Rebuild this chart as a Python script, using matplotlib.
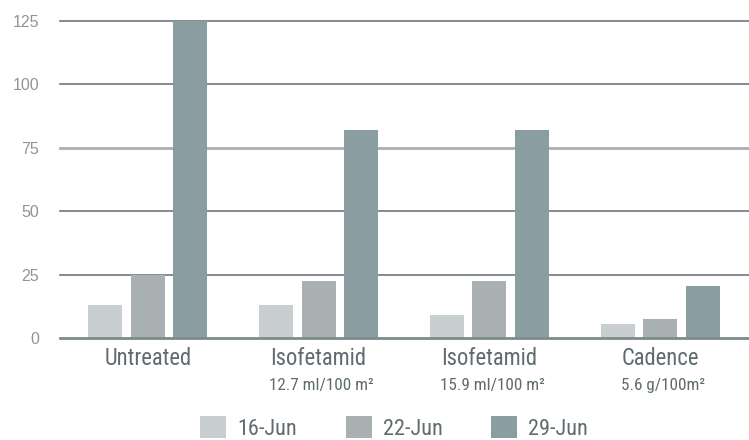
import matplotlib
matplotlib.use("Agg")
import matplotlib.pyplot as plt
import numpy as np
from matplotlib import font_manager as fm
from matplotlib.transforms import blended_transform_factory

categories = ["Untreated", "Isofetamid", "Isofetamid", "Cadence"]
sublabels = ["", "12.7 ml/100 m\u00b2", "15.9 ml/100 m\u00b2", "5.6 g/100m\u00b2"]
series_names = ["16-Jun", "22-Jun", "29-Jun"]
jun16 = [13, 13, 9.2, 5.6]
jun22 = [25, 22.6, 22.6, 7.6]
jun29 = [125, 82, 82, 20.6]
yticks = [0, 25, 50, 75, 100, 125]

colors = ["#c9cfd1", "#a9b0b2", "#8a9da1"]


def pick_narrow():
    for fam, stretch in [("Liberation Sans Narrow", "normal"),
                         ("Roboto Condensed", "normal"),
                         ("DejaVu Sans", "condensed"),
                         ("Open Sans", "condensed")]:
        try:
            path = fm.findfont(fm.FontProperties(family=fam, stretch=stretch),
                               fallback_to_default=False)
        except Exception:
            continue
        low = path.lower()
        if "narrow" in low or "condensed" in low:
            return fam, stretch, 1.0
    return "Roboto", "normal", 0.9


nfam, nstretch, nscale = pick_narrow()
narrow = [nfam, "DejaVu Sans"]

fig = plt.figure(figsize=(7.49, 4.40), dpi=100)
ax = fig.add_axes([60 / 749, 1 - 338 / 440, 1 - 60 / 749, (338 - 21) / 440])

x = np.arange(len(categories))
width = 0.199
step = 0.249
handles = []
for i, (vals, name) in enumerate(zip([jun16, jun22, jun29], series_names)):
    b = ax.bar(x + (i - 1) * step, vals, width, color=colors[i], label=name, zorder=3)
    handles.append(b)

for v in yticks[1:]:
    if v == 75:
        ax.axhline(v, color="#a9b0b2", lw=2.0, zorder=1, clip_on=False)
    else:
        ax.axhline(v, color="#6d797c", lw=1.2, zorder=1, clip_on=False)
ax.axhline(0, color="#7f8a8d", lw=2.0, zorder=4, clip_on=False)

ax.set_xlim(-0.514, 3.52)
ax.set_ylim(0, 125)
for s in ax.spines.values():
    s.set_visible(False)

ax.set_yticks(yticks)
ax.set_yticklabels([str(v) for v in yticks], family=["Liberation Sans", "DejaVu Sans"],
                   fontsize=11.5, color="#8f9597")
ax.tick_params(axis="y", length=0, pad=15)
ax.set_xticks(x)
ax.set_xticklabels(categories, family=narrow, stretch=nstretch,
                   fontsize=17 * nscale * 0.96, color="#5f6b6e")
ax.tick_params(axis="x", length=0, pad=6.2)

trans = blended_transform_factory(ax.transData, ax.transAxes)
for xi, sl in zip(x, sublabels):
    if sl:
        ax.annotate(sl, xy=(xi, 0), xycoords=trans, xytext=(2, -37.2),
                    textcoords="offset points", ha="center", va="baseline",
                    family=narrow, stretch=nstretch, fontsize=13 * nscale * 0.95,
                    color="#5f6b6e")

leg_size = 16 * nscale
leg_px = leg_size * 100 / 72
fig.legend(handles=handles, labels=series_names, loc="upper left",
           bbox_to_anchor=(200 / 749, 1 - 416 / 440), ncol=3, frameon=False,
           prop={"family": narrow, "stretch": nstretch, "size": leg_size},
           labelcolor="#5f6b6e",
           handlelength=26 / leg_px, handleheight=26 / leg_px,
           handletextpad=11 / leg_px,
           columnspacing=2.2, borderpad=0, borderaxespad=0)

fig.savefig("out.png", dpi=100)
